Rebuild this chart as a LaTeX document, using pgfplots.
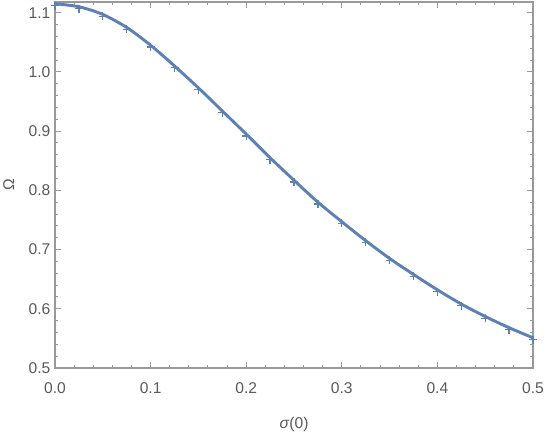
\documentclass[border=0pt]{standalone}
\usepackage{pgfplots}
\pgfplotsset{compat=1.18}
\usepackage{fontspec}
\setmainfont{Liberation Sans}
\definecolor{mblue}{RGB}{94,129,181}
\definecolor{framegray}{gray}{0.6}
\definecolor{labelgray}{gray}{0.35}

% curve and sampled points
\pgfplotstableread{
x     y
0.000 1.115
0.025 1.110
0.050 1.097
0.075 1.075
0.100 1.045
0.125 1.010
0.150 0.973
0.175 0.934
0.200 0.895
0.225 0.855
0.250 0.817
0.275 0.780
0.300 0.747
0.325 0.715
0.350 0.685
0.375 0.658
0.400 0.632
0.425 0.608
0.450 0.587
0.475 0.568
0.500 0.551
}\curvedata
\pgfplotstableread{
x     y
0.000 1.112
0.025 1.107
0.050 1.094
0.075 1.072
0.100 1.042
0.125 1.007
0.150 0.970
0.175 0.931
0.200 0.892
0.225 0.852
0.250 0.814
0.275 0.777
0.300 0.744
0.325 0.712
0.350 0.682
0.375 0.655
0.400 0.629
0.425 0.605
0.450 0.584
0.475 0.565
0.500 0.548
}\pointdata

\begin{document}
\begin{tikzpicture}
\begin{axis}[
  scale only axis,
  width=358.5pt, height=274.5pt,
  xmin=0, xmax=0.5, ymin=0.5, ymax=1.118,
  xtick={0,0.1,0.2,0.3,0.4,0.5},
  ytick={0.5,0.6,0.7,0.8,0.9,1.0,1.1},
  minor x tick num=4, minor y tick num=4,
  tick align=inside,
  major tick length=4.5pt, minor tick length=2.4pt,
  axis line style={framegray, line width=0.8pt},
  every tick/.style={framegray, line width=0.7pt},
  tick label style={font=\fontsize{11.7}{13}\selectfont, text=labelgray},
  xticklabel style={anchor=center, yshift=-15pt},
  /pgf/number format/assume math mode=true,
  /pgf/number format/fixed, /pgf/number format/fixed zerofill,
  /pgf/number format/precision=1,
  xlabel={\textit{σ}(0)}, ylabel={Ω},
  label style={font=\fontsize{11.7}{13}\selectfont, text=labelgray},
  xlabel style={at={(axis description cs:0.5,-0.154)}, anchor=center},
  ylabel style={at={(axis description cs:-0.097,0.5)}, anchor=center},
  clip=true,
]
\addplot[mblue, line width=2.2pt, smooth, tension=0.5] table[x=x,y=y] {\curvedata};
\addplot[only marks, mark=+, mark size=3pt, mblue, mark options={line width=1pt}] table[x=x,y=y] {\pointdata};
\coordinate (sw) at (rel axis cs:0,0);
\end{axis}
\pgfresetboundingbox
\useasboundingbox ([shift={(-41.25pt,276pt)}]sw) rectangle ([shift={(367.5pt,-51pt)}]sw);
\end{tikzpicture}
\end{document}
